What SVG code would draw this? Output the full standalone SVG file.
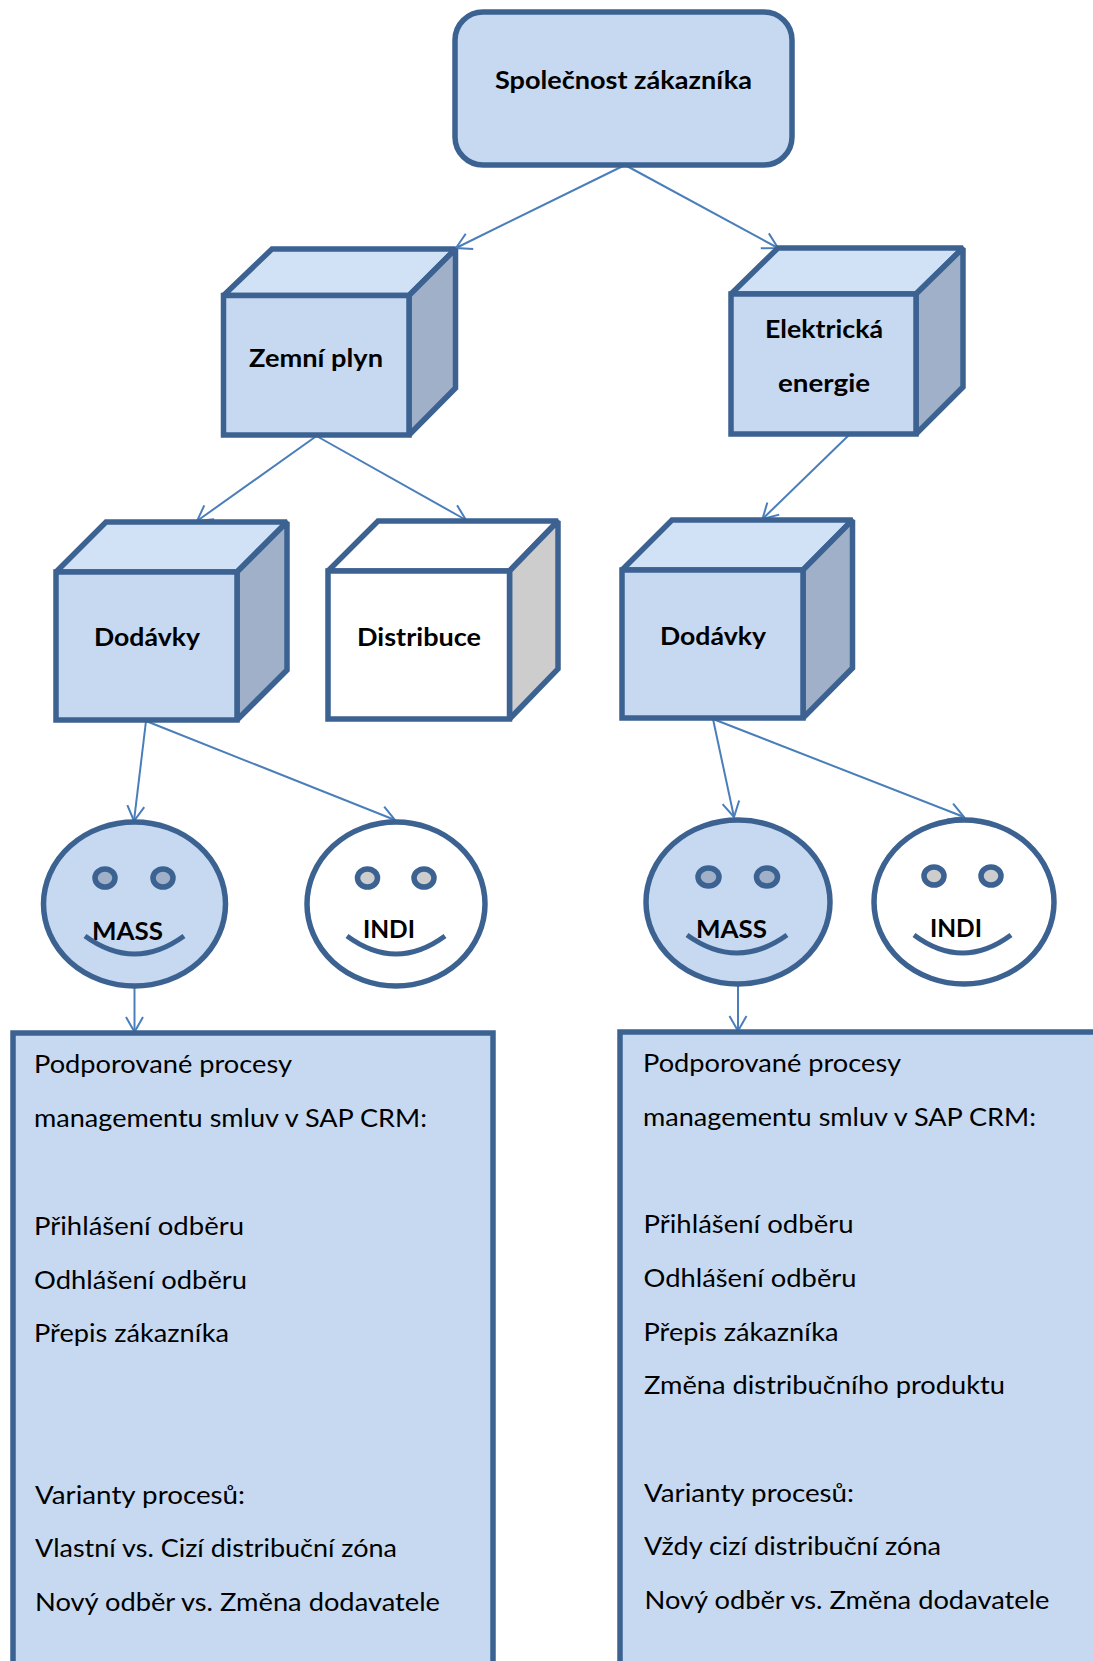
<svg xmlns="http://www.w3.org/2000/svg" width="1093" height="1661" viewBox="0 0 1093 1661">
<style>
.s{stroke:#3c6291;stroke-width:5.5;stroke-linejoin:miter;stroke-miterlimit:2}
.f{fill:#c6d9f1}.t{fill:#d2e2f6}.d{fill:#9fb0c8}
.w{fill:#fff}.g{fill:#cdcdcd}
.sm{fill:none;stroke:#3c6291;stroke-width:5}
.c{fill:none;stroke:#4a7ebb;stroke-width:2;marker-end:url(#a)}
text{font-family:Lato,"Liberation Sans",sans-serif;fill:#000}
.b{font-weight:700;font-size:25px}
.r{font-size:25px}
</style>
<defs>
<marker id="a" markerUnits="userSpaceOnUse" markerWidth="24" markerHeight="24" refX="18" refY="12" orient="auto"><path d="M3 3.500L18 12L3 20.500" fill="none" stroke="#4a7ebb" stroke-width="2"/></marker>
</defs>
<g id="connectors">
<path class="c" d="M625 165L456 248"/><path class="c" d="M625 165L778 248"/>
<path class="c" d="M316.500 436L197 521"/><path class="c" d="M316.500 436L466 520"/>
<path class="c" d="M849 435L762.500 519"/>
<path class="c" d="M146 721L134 821"/><path class="c" d="M146 721L395 820"/>
<path class="c" d="M713 719L734 817"/><path class="c" d="M713 719L964 817"/>
<path class="c" d="M134.500 985L134.500 1032"/><path class="c" d="M738 983L738 1031"/>
</g>
<g id="company"><rect class="s f" x="455" y="12" width="337" height="153" rx="28"/><text class="b" x="495" y="89" textLength="257" lengthAdjust="spacingAndGlyphs">Společnost zákazníka</text></g>
<g id="plyn"><path class="s t" d="M223.500 295.500L272 249H455.500L409 295.500Z"/><path class="s d" d="M409 295.500L455.500 249V388L409 435Z"/><rect class="s f" x="223.500" y="295.500" width="185.500" height="139.500"/><text class="b" x="249" y="367" textLength="134" lengthAdjust="spacingAndGlyphs">Zemní plyn</text></g>
<g id="elektricka"><path class="s t" d="M731 294L778 248H963L916 294Z"/><path class="s d" d="M916 294L963 248V387L916 434Z"/><rect class="s f" x="731" y="294" width="185" height="140"/><text class="b" x="765" y="338" textLength="118" lengthAdjust="spacingAndGlyphs">Elektrická</text><text class="b" x="778" y="392" textLength="92" lengthAdjust="spacingAndGlyphs">energie</text></g>
<g id="dodavky-l"><path class="s t" d="M56 572L106 522H287L237 572Z"/><path class="s d" d="M237 572L287 522V670L237 720Z"/><rect class="s f" x="56" y="572" width="181" height="148"/><text class="b" x="94" y="646" textLength="106" lengthAdjust="spacingAndGlyphs">Dodávky</text></g>
<g id="distribuce"><path class="s w" d="M328 571L378 521H558L509.500 571Z"/><path class="s g" d="M509.500 571L558 521V669L509.500 719Z"/><rect class="s w" x="328" y="571" width="181.500" height="148"/><text class="b" x="357" y="646" textLength="124" lengthAdjust="spacingAndGlyphs">Distribuce</text></g>
<g id="dodavky-r"><path class="s t" d="M622 570L672 520H852.500L803 570Z"/><path class="s d" d="M803 570L852.500 520V668L803 718Z"/><rect class="s f" x="622" y="570" width="181" height="148"/><text class="b" x="660" y="645" textLength="106" lengthAdjust="spacingAndGlyphs">Dodávky</text></g>
<g id="mass-l"><ellipse class="s f" cx="134.500" cy="904" rx="91" ry="82"/><ellipse class="s d" cx="105" cy="878" rx="10" ry="9"/><ellipse class="s d" cx="163" cy="878" rx="10" ry="9"/><text class="b" x="92" y="940" textLength="71" lengthAdjust="spacingAndGlyphs">MASS</text><path class="sm" d="M85 936Q134.500 972 184 936"/></g>
<g id="indi-l"><ellipse class="s w" cx="396" cy="904" rx="89" ry="82"/><ellipse class="s g" cx="367.500" cy="878" rx="10" ry="9"/><ellipse class="s g" cx="424" cy="878" rx="10" ry="9"/><text class="b" x="363" y="938" textLength="52" lengthAdjust="spacingAndGlyphs">INDI</text><path class="sm" d="M347 936Q396 972 445 936"/></g>
<g id="mass-r"><ellipse class="s f" cx="738" cy="902" rx="92" ry="82"/><ellipse class="s d" cx="708.500" cy="877" rx="10.500" ry="9"/><ellipse class="s d" cx="767" cy="877" rx="10.500" ry="9"/><text class="b" x="696" y="938" textLength="71" lengthAdjust="spacingAndGlyphs">MASS</text><path class="sm" d="M687 935Q737 971 787 935"/></g>
<g id="indi-r"><ellipse class="s w" cx="964" cy="902" rx="90" ry="82"/><ellipse class="s g" cx="934" cy="876" rx="10" ry="9"/><ellipse class="s g" cx="991" cy="876" rx="10" ry="9"/><text class="b" x="930" y="937" textLength="52" lengthAdjust="spacingAndGlyphs">INDI</text><path class="sm" d="M914 935Q962.500 971 1011 935"/></g>
<g id="panel-l"><rect class="s f" x="13" y="1033" width="480" height="640"/>
<text class="r" x="34" y="1073" textLength="258" lengthAdjust="spacingAndGlyphs">Podporované procesy</text>
<text class="r" x="34" y="1127" textLength="393" lengthAdjust="spacingAndGlyphs">managementu smluv v SAP CRM:</text>
<text class="r" x="34" y="1235" textLength="210" lengthAdjust="spacingAndGlyphs">Přihlášení odběru</text>
<text class="r" x="34" y="1289" textLength="213" lengthAdjust="spacingAndGlyphs">Odhlášení odběru</text>
<text class="r" x="34" y="1342" textLength="195" lengthAdjust="spacingAndGlyphs">Přepis zákazníka</text>
<text class="r" x="35" y="1504" textLength="210" lengthAdjust="spacingAndGlyphs">Varianty procesů:</text>
<text class="r" x="35" y="1557" textLength="362" lengthAdjust="spacingAndGlyphs">Vlastní vs. Cizí distribuční zóna</text>
<text class="r" x="35" y="1611" textLength="405" lengthAdjust="spacingAndGlyphs">Nový odběr vs. Změna dodavatele</text>
</g>
<g id="panel-r"><rect class="s f" x="620" y="1032" width="490" height="640"/>
<text class="r" x="643" y="1072" textLength="258" lengthAdjust="spacingAndGlyphs">Podporované procesy</text>
<text class="r" x="643" y="1126" textLength="393" lengthAdjust="spacingAndGlyphs">managementu smluv v SAP CRM:</text>
<text class="r" x="643.500" y="1233" textLength="210" lengthAdjust="spacingAndGlyphs">Přihlášení odběru</text>
<text class="r" x="643.500" y="1287" textLength="213" lengthAdjust="spacingAndGlyphs">Odhlášení odběru</text>
<text class="r" x="643.500" y="1341" textLength="195" lengthAdjust="spacingAndGlyphs">Přepis zákazníka</text>
<text class="r" x="644" y="1394" textLength="361" lengthAdjust="spacingAndGlyphs">Změna distribučního produktu</text>
<text class="r" x="644" y="1502" textLength="210" lengthAdjust="spacingAndGlyphs">Varianty procesů:</text>
<text class="r" x="644" y="1555" textLength="297" lengthAdjust="spacingAndGlyphs">Vždy cizí distribuční zóna</text>
<text class="r" x="644.500" y="1609" textLength="405" lengthAdjust="spacingAndGlyphs">Nový odběr vs. Změna dodavatele</text>
</g>
</svg>
